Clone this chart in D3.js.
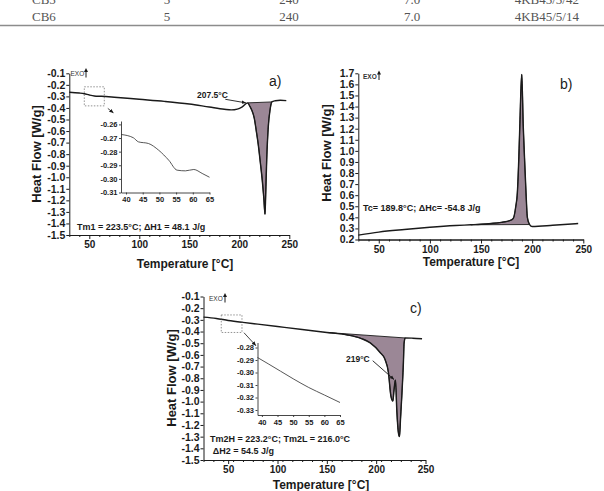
<!DOCTYPE html>
<html>
<head>
<meta charset="utf-8">
<script src="https://cdn.jsdelivr.net/npm/d3@7"></script>
<style>
  body { margin: 0; background: #fff; }
  svg { display: block; }
  .tick text { font-family: "Liberation Sans", Arial, sans-serif; font-weight: bold; fill: #1a1a1a; }
</style>
</head>
<body>
<svg id="fig" width="604" height="491"></svg>
<script>
// --- table rows (bottom of the table above the figure)
const tableRows = [
  ["CB5", "5", "240", "7.0", "4KB45/5/42"],
  ["CB6", "5", "240", "7.0", "4KB45/5/14"]
];

// --- a) first heating, [T °C, heat flow W/g]
const curveA = [
  [30, -0.264], [40, -0.271], [45, -0.277], [50, -0.288], [55, -0.296], [62, -0.299],
  [75, -0.307], [100, -0.325], [125, -0.343], [150, -0.366], [170, -0.392], [185, -0.411],
  [192, -0.417], [198, -0.41], [203, -0.39], [208.4, -0.356], [210.5, -0.385], [212.5, -0.42],
  [215, -0.49], [217, -0.6], [219, -0.72], [221, -0.87], [223, -1.03], [224.5, -1.18],
  [225.7, -1.32], [226.4, -1.15], [227.4, -0.85], [229, -0.56], [230.7, -0.42], [232.5, -0.348],
  [236, -0.338], [241, -0.333], [247, -0.337]
];
const insetA = [
  [38.5, -0.2674], [42.2, -0.2698], [43.7, -0.2728], [46.7, -0.274], [49.8, -0.279],
  [52.8, -0.2863], [55.3, -0.2936], [57.8, -0.2941], [60.3, -0.2931], [62.8, -0.296], [65, -0.2988]
];
const fillA = [208.4, 232.5];

// --- b) cooling
const curveB = [
  [30, 0.24], [50, 0.267], [75, 0.29], [100, 0.31], [125, 0.326], [140, 0.333], [150, 0.338],
  [160, 0.345], [170, 0.355], [178, 0.37], [181.5, 0.39], [184, 0.5], [185.5, 0.62],
  [187, 0.95], [188, 1.25], [189.8, 1.69], [191.3, 1.22], [192.7, 0.9], [194, 0.62],
  [195.3, 0.4], [197.5, 0.335], [200, 0.318], [220, 0.328], [245, 0.344]
];
const fillB = [140, 197.5];

// --- c) second heating
const curveC = [
  [25, -0.277], [38, -0.288], [50, -0.305], [65, -0.322], [80, -0.337], [100, -0.357],
  [125, -0.382], [150, -0.408], [170, -0.428], [185, -0.46], [194, -0.497], [204, -0.58],
  [209, -0.64], [212.4, -0.75], [214.9, -0.95], [216.9, -0.995], [218, -0.91], [219.5, -0.815],
  [221, -1.09], [222.3, -1.25], [223.6, -1.3], [224.8, -1.13], [226, -0.95], [227.6, -0.668],
  [228.3, -0.5], [229.4, -0.455], [237, -0.457], [246.5, -0.462]
];
const insetC = [
  [38.6, -0.288], [42, -0.293], [46, -0.299], [50, -0.305], [55, -0.312], [60, -0.318], [65, -0.324]
];
const fillC = [150, 229.4];

// --- tick labels
const xTicks = [50, 100, 150, 200, 250];
const yTicksAC = [-0.1, -0.2, -0.3, -0.4, -0.5, -0.6, -0.7, -0.8, -0.9, -1.0, -1.1, -1.2, -1.3, -1.4, -1.5];
const yTicksB = [0.2, 0.3, 0.4, 0.5, 0.6, 0.7, 0.8, 0.9, 1.0, 1.1, 1.2, 1.3, 1.4, 1.5, 1.6, 1.7];
const insetXTicks = [40, 45, 50, 55, 60, 65];
const insetYTicksA = [-0.26, -0.27, -0.28, -0.29, -0.30, -0.31];
const insetYTicksC = [-0.28, -0.29, -0.30, -0.31, -0.32, -0.33];

const FONT = '"Liberation Sans", Arial, sans-serif';
const INK = "#1a1a1a";
const FILL = "#9b8796";

const svg = d3.select("#fig");

svg.append("defs").append("marker")
  .attr("id", "head").attr("viewBox", "0 0 10 10")
  .attr("refX", 9).attr("refY", 5)
  .attr("markerWidth", 5).attr("markerHeight", 5)
  .attr("orient", "auto")
  .append("path").attr("d", "M0,1 L10,5 L0,9 Z").attr("fill", INK);

// table fragment (top row is cut by the page edge, as in the scan)
const colX = [32, 167, 289, 412, 579];
const colAnchor = ["start", "middle", "middle", "middle", "end"];
const rowY = [4, 21];
tableRows.forEach((row, i) => {
  row.forEach((cell, j) => {
    svg.append("text")
      .attr("x", colX[j]).attr("y", rowY[i])
      .attr("text-anchor", colAnchor[j])
      .style("font-family", '"Liberation Serif", "Times New Roman", serif')
      .style("font-size", "13px").style("fill", "#555")
      .text(cell);
  });
});
svg.append("line").attr("x1", 0).attr("x2", 604).attr("y1", 25.5).attr("y2", 25.5)
  .attr("stroke", "#8c8c8c").attr("stroke-width", 1.6);

function txt(g, x, y, s, size, opts = {}) {
  return g.append("text").attr("x", x).attr("y", y)
    .attr("text-anchor", opts.anchor || "start")
    .style("font-family", FONT).style("font-size", size + "px")
    .style("font-weight", opts.weight || "bold").style("fill", opts.color || INK)
    .text(s);
}

function drawPanel(p) {
  const g = svg.append("g");
  const x = d3.scaleLinear().domain(p.xDomain).range(p.xRange);
  const y = d3.scaleLinear().domain([d3.min(p.yTicks), d3.max(p.yTicks)]).range(p.yRange);
  const line = d3.line().x(d => x(d[0])).y(d => y(d[1])).curve(d3.curveMonotoneX);

  // shaded peak area, closed by the straight baseline
  const seg = p.data.filter(d => d[0] >= p.fill[0] && d[0] <= p.fill[1]);
  g.append("path").attr("d", line(seg) + "Z")
    .attr("fill", FILL).attr("stroke", INK).attr("stroke-width", 0.9);
  g.append("path").attr("d", line(p.data))
    .attr("fill", "none").attr("stroke", INK).attr("stroke-width", 1.4);

  // axes
  const yAx = g.append("g").attr("transform", `translate(${p.xRange[0]},0)`)
    .call(d3.axisLeft(y).tickValues(p.yTicks).tickSize(3).tickSizeOuter(0).tickPadding(1)
      .tickFormat(d => d.toFixed(1)));
  yAx.selectAll("text").style("font-size", "10.5px");
  const yb = p.yRange[0];
  const minor = d3.range(p.xDomain[0], 251, 10).filter(v => v % 50 !== 0);
  g.append("g").attr("transform", `translate(0,${yb})`)
    .call(d3.axisBottom(x).tickValues(minor).tickSize(2).tickSizeOuter(0).tickFormat(""));
  const xAx = g.append("g").attr("transform", `translate(0,${yb})`)
    .call(d3.axisBottom(x).tickValues(xTicks).tickSize(4).tickSizeOuter(0).tickPadding(2));
  xAx.selectAll("text").style("font-size", "10px");
  g.selectAll(".domain, .tick line").attr("stroke", INK).attr("stroke-width", 1);

  // titles
  txt(g, p.xTitle[0], p.xTitle[1], "Temperature [°C]", 12, { anchor: "middle" });
  txt(g, 0, 0, "Heat Flow [W/g]", 13, { anchor: "middle" })
    .attr("transform", `translate(${p.yTitle[0]},${p.yTitle[1]}) rotate(-90)`);
  txt(g, p.tag[0], p.tag[1], p.tag[2], 14, { weight: "normal" });

  // EXO marker
  txt(g, p.exo[0], p.exo[1], "EXO", 6.5, { weight: p.exo[3] ? "bold" : "normal", color: "#333" });
  g.append("line").attr("x1", p.exo[2]).attr("x2", p.exo[2])
    .attr("y1", p.exo[1] + 1.5).attr("y2", p.exo[1] - 6)
    .attr("stroke", INK).attr("stroke-width", 1);
  g.append("path")
    .attr("d", `M${p.exo[2] - 2},${p.exo[1] - 4} L${p.exo[2]},${p.exo[1] - 8} L${p.exo[2] + 2},${p.exo[1] - 4} Z`)
    .attr("fill", INK);

  // text notes
  p.notes.forEach(n => txt(g, n[0], n[1], n[2], n[3]));

  // pointer arrows (given in data coordinates)
  (p.arrows || []).forEach(a => {
    g.append("line")
      .attr("x1", x(a[0][0])).attr("y1", y(a[0][1]))
      .attr("x2", x(a[1][0])).attr("y2", y(a[1][1]))
      .attr("stroke", a[2] || INK).attr("stroke-width", 0.9)
      .attr("marker-end", "url(#head)");
  });

  // zoom box + inset
  if (p.inset) {
    const b = p.inset.box;
    g.append("rect")
      .attr("x", x(b[0])).attr("y", y(b[3]))
      .attr("width", x(b[1]) - x(b[0])).attr("height", y(b[2]) - y(b[3]))
      .attr("fill", "none").attr("stroke", "#777").attr("stroke-width", 0.8)
      .attr("stroke-dasharray", "1.5,1.5");

    const ix = d3.scaleLinear().domain(p.inset.xDomain).range(p.inset.xRange);
    const iy = d3.scaleLinear().domain(p.inset.yDomain).range(p.inset.yRange);
    const iline = d3.line().x(d => ix(d[0])).y(d => iy(d[1])).curve(d3.curveMonotoneX);
    g.append("path").attr("d", iline(p.inset.data))
      .attr("fill", "none").attr("stroke", "#444").attr("stroke-width", 0.9);
    const iyAx = g.append("g").attr("transform", `translate(${p.inset.xRange[0]},0)`)
      .call(d3.axisLeft(iy).tickValues(p.inset.yTicks).tickSize(2).tickSizeOuter(0).tickPadding(1.5)
        .tickFormat(d => d.toFixed(2)));
    iyAx.selectAll("text").style("font-size", "7.5px");
    const ixAx = g.append("g").attr("transform", `translate(0,${p.inset.yRange[0]})`)
      .call(d3.axisBottom(ix).tickValues(insetXTicks).tickSize(2).tickSizeOuter(0).tickPadding(2.5));
    ixAx.selectAll("text").style("font-size", "7.5px");
    [iyAx, ixAx].forEach(a => a.selectAll(".domain, .tick line").attr("stroke", "#333").attr("stroke-width", 0.9));
  }
}

drawPanel({
  data: curveA, fill: fillA,
  xDomain: [30, 250], xRange: [69.3, 289.3],
  yTicks: yTicksAC, yRange: [235, 73.3],
  xTitle: [185, 267.5], yTitle: [41, 154], tag: [269, 86, "a)"],
  exo: [70.5, 76, 86, false],
  notes: [
    [197, 97.5, "207.5°C", 8.5],
    [77, 229.5, "Tm1 = 223.5°C; \u0394H1 =  48.1 J/g", 9]
  ],
  arrows: [[[186, -0.325], [206.5, -0.356]], [[68.5, -0.404], [74, -0.442], "#333"]],
  inset: {
    box: [45, 65, -0.382, -0.217],
    data: insetA, xDomain: [38.5, 65], xRange: [121, 209.5],
    yDomain: [-0.31, -0.2575], yRange: [192.5, 121], yTicks: insetYTicksA
  }
});

drawPanel({
  data: curveB, fill: fillB,
  xDomain: [30, 250], xRange: [358.3, 583.3],
  yTicks: yTicksB, yRange: [239.5, 73.3],
  xTitle: [471, 266], yTitle: [331, 153], tag: [560, 89, "b)"],
  exo: [363, 78.5, 379, true],
  notes: [[363, 210.5, "Tc= 189.8°C; \u0394Hc= -54.8 J/g", 9]]
});

drawPanel({
  data: curveC, fill: fillC,
  xDomain: [25, 250], xRange: [203.5, 425.5],
  yTicks: yTicksAC, yRange: [460, 296.5],
  xTitle: [321, 489], yTitle: [176, 378], tag: [410, 313, "c)"],
  exo: [209, 301, 225, false],
  notes: [
    [346, 362, "219°C", 8.5],
    [210, 441.5, "Tm2H = 223.2°C; Tm2L = 216.0°C", 9],
    [212.7, 453.5, "\u0394H2 =  54.5 J/g", 9]
  ],
  arrows: [[[196.5, -0.65], [218, -0.81]], [[66, -0.41], [78, -0.52], "#333"]],
  inset: {
    box: [43, 64, -0.408, -0.258],
    data: insetC, xDomain: [38.6, 65], xRange: [257.5, 340],
    yDomain: [-0.334, -0.276], yRange: [415, 342.5], yTicks: insetYTicksC
  }
});
</script>
</body>
</html>
